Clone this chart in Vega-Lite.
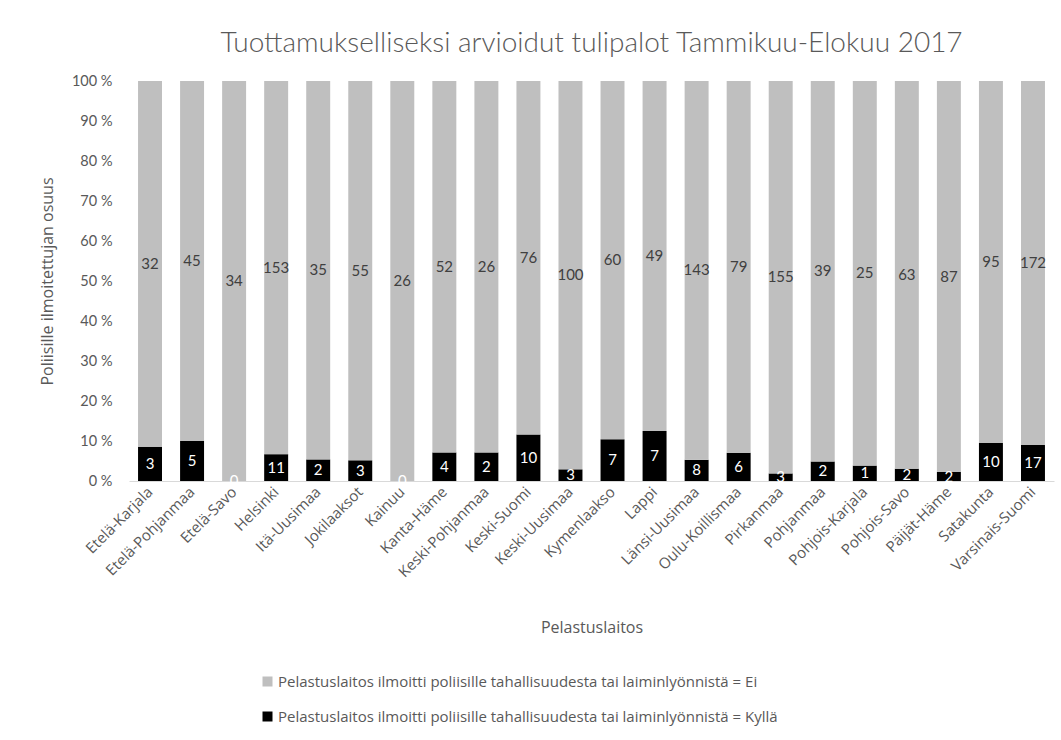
{
  "$schema": "https://vega.github.io/schema/vega-lite/v6.json",
  "width": 925,
  "height": 400,
  "autosize": {"type": "none"},
  "padding": {"left": 129, "top": 81, "right": 7, "bottom": 259},
  "background": "white",
  "config": {
    "font": "Lato",
    "view": {"stroke": null}
  },
  "title": {
    "text": "Tuottamukselliseksi arvioidut tulipalot Tammikuu-Elokuu 2017",
    "fontSize": 28,
    "fontWeight": 300,
    "color": "#595959",
    "anchor": "middle",
    "offset": 15,
    "font": "Lato"
  },
  "data": {
    "values": [
      {"alue": "Etelä-Karjala", "vastaus": "Pelastuslaitos ilmoitti poliisille tahallisuudesta tai laiminlyönnistä = Kyllä", "ord": 1, "lkm": 3},
      {"alue": "Etelä-Karjala", "vastaus": "Pelastuslaitos ilmoitti poliisille tahallisuudesta tai laiminlyönnistä = Ei", "ord": 2, "lkm": 32},
      {"alue": "Etelä-Pohjanmaa", "vastaus": "Pelastuslaitos ilmoitti poliisille tahallisuudesta tai laiminlyönnistä = Kyllä", "ord": 1, "lkm": 5},
      {"alue": "Etelä-Pohjanmaa", "vastaus": "Pelastuslaitos ilmoitti poliisille tahallisuudesta tai laiminlyönnistä = Ei", "ord": 2, "lkm": 45},
      {"alue": "Etelä-Savo", "vastaus": "Pelastuslaitos ilmoitti poliisille tahallisuudesta tai laiminlyönnistä = Kyllä", "ord": 1, "lkm": 0},
      {"alue": "Etelä-Savo", "vastaus": "Pelastuslaitos ilmoitti poliisille tahallisuudesta tai laiminlyönnistä = Ei", "ord": 2, "lkm": 34},
      {"alue": "Helsinki", "vastaus": "Pelastuslaitos ilmoitti poliisille tahallisuudesta tai laiminlyönnistä = Kyllä", "ord": 1, "lkm": 11},
      {"alue": "Helsinki", "vastaus": "Pelastuslaitos ilmoitti poliisille tahallisuudesta tai laiminlyönnistä = Ei", "ord": 2, "lkm": 153},
      {"alue": "Itä-Uusimaa", "vastaus": "Pelastuslaitos ilmoitti poliisille tahallisuudesta tai laiminlyönnistä = Kyllä", "ord": 1, "lkm": 2},
      {"alue": "Itä-Uusimaa", "vastaus": "Pelastuslaitos ilmoitti poliisille tahallisuudesta tai laiminlyönnistä = Ei", "ord": 2, "lkm": 35},
      {"alue": "Jokilaaksot", "vastaus": "Pelastuslaitos ilmoitti poliisille tahallisuudesta tai laiminlyönnistä = Kyllä", "ord": 1, "lkm": 3},
      {"alue": "Jokilaaksot", "vastaus": "Pelastuslaitos ilmoitti poliisille tahallisuudesta tai laiminlyönnistä = Ei", "ord": 2, "lkm": 55},
      {"alue": "Kainuu", "vastaus": "Pelastuslaitos ilmoitti poliisille tahallisuudesta tai laiminlyönnistä = Kyllä", "ord": 1, "lkm": 0},
      {"alue": "Kainuu", "vastaus": "Pelastuslaitos ilmoitti poliisille tahallisuudesta tai laiminlyönnistä = Ei", "ord": 2, "lkm": 26},
      {"alue": "Kanta-Häme", "vastaus": "Pelastuslaitos ilmoitti poliisille tahallisuudesta tai laiminlyönnistä = Kyllä", "ord": 1, "lkm": 4},
      {"alue": "Kanta-Häme", "vastaus": "Pelastuslaitos ilmoitti poliisille tahallisuudesta tai laiminlyönnistä = Ei", "ord": 2, "lkm": 52},
      {"alue": "Keski-Pohjanmaa", "vastaus": "Pelastuslaitos ilmoitti poliisille tahallisuudesta tai laiminlyönnistä = Kyllä", "ord": 1, "lkm": 2},
      {"alue": "Keski-Pohjanmaa", "vastaus": "Pelastuslaitos ilmoitti poliisille tahallisuudesta tai laiminlyönnistä = Ei", "ord": 2, "lkm": 26},
      {"alue": "Keski-Suomi", "vastaus": "Pelastuslaitos ilmoitti poliisille tahallisuudesta tai laiminlyönnistä = Kyllä", "ord": 1, "lkm": 10},
      {"alue": "Keski-Suomi", "vastaus": "Pelastuslaitos ilmoitti poliisille tahallisuudesta tai laiminlyönnistä = Ei", "ord": 2, "lkm": 76},
      {"alue": "Keski-Uusimaa", "vastaus": "Pelastuslaitos ilmoitti poliisille tahallisuudesta tai laiminlyönnistä = Kyllä", "ord": 1, "lkm": 3},
      {"alue": "Keski-Uusimaa", "vastaus": "Pelastuslaitos ilmoitti poliisille tahallisuudesta tai laiminlyönnistä = Ei", "ord": 2, "lkm": 100},
      {"alue": "Kymenlaakso", "vastaus": "Pelastuslaitos ilmoitti poliisille tahallisuudesta tai laiminlyönnistä = Kyllä", "ord": 1, "lkm": 7},
      {"alue": "Kymenlaakso", "vastaus": "Pelastuslaitos ilmoitti poliisille tahallisuudesta tai laiminlyönnistä = Ei", "ord": 2, "lkm": 60},
      {"alue": "Lappi", "vastaus": "Pelastuslaitos ilmoitti poliisille tahallisuudesta tai laiminlyönnistä = Kyllä", "ord": 1, "lkm": 7},
      {"alue": "Lappi", "vastaus": "Pelastuslaitos ilmoitti poliisille tahallisuudesta tai laiminlyönnistä = Ei", "ord": 2, "lkm": 49},
      {"alue": "Länsi-Uusimaa", "vastaus": "Pelastuslaitos ilmoitti poliisille tahallisuudesta tai laiminlyönnistä = Kyllä", "ord": 1, "lkm": 8},
      {"alue": "Länsi-Uusimaa", "vastaus": "Pelastuslaitos ilmoitti poliisille tahallisuudesta tai laiminlyönnistä = Ei", "ord": 2, "lkm": 143},
      {"alue": "Oulu-Koillismaa", "vastaus": "Pelastuslaitos ilmoitti poliisille tahallisuudesta tai laiminlyönnistä = Kyllä", "ord": 1, "lkm": 6},
      {"alue": "Oulu-Koillismaa", "vastaus": "Pelastuslaitos ilmoitti poliisille tahallisuudesta tai laiminlyönnistä = Ei", "ord": 2, "lkm": 79},
      {"alue": "Pirkanmaa", "vastaus": "Pelastuslaitos ilmoitti poliisille tahallisuudesta tai laiminlyönnistä = Kyllä", "ord": 1, "lkm": 3},
      {"alue": "Pirkanmaa", "vastaus": "Pelastuslaitos ilmoitti poliisille tahallisuudesta tai laiminlyönnistä = Ei", "ord": 2, "lkm": 155},
      {"alue": "Pohjanmaa", "vastaus": "Pelastuslaitos ilmoitti poliisille tahallisuudesta tai laiminlyönnistä = Kyllä", "ord": 1, "lkm": 2},
      {"alue": "Pohjanmaa", "vastaus": "Pelastuslaitos ilmoitti poliisille tahallisuudesta tai laiminlyönnistä = Ei", "ord": 2, "lkm": 39},
      {"alue": "Pohjois-Karjala", "vastaus": "Pelastuslaitos ilmoitti poliisille tahallisuudesta tai laiminlyönnistä = Kyllä", "ord": 1, "lkm": 1},
      {"alue": "Pohjois-Karjala", "vastaus": "Pelastuslaitos ilmoitti poliisille tahallisuudesta tai laiminlyönnistä = Ei", "ord": 2, "lkm": 25},
      {"alue": "Pohjois-Savo", "vastaus": "Pelastuslaitos ilmoitti poliisille tahallisuudesta tai laiminlyönnistä = Kyllä", "ord": 1, "lkm": 2},
      {"alue": "Pohjois-Savo", "vastaus": "Pelastuslaitos ilmoitti poliisille tahallisuudesta tai laiminlyönnistä = Ei", "ord": 2, "lkm": 63},
      {"alue": "Päijät-Häme", "vastaus": "Pelastuslaitos ilmoitti poliisille tahallisuudesta tai laiminlyönnistä = Kyllä", "ord": 1, "lkm": 2},
      {"alue": "Päijät-Häme", "vastaus": "Pelastuslaitos ilmoitti poliisille tahallisuudesta tai laiminlyönnistä = Ei", "ord": 2, "lkm": 87},
      {"alue": "Satakunta", "vastaus": "Pelastuslaitos ilmoitti poliisille tahallisuudesta tai laiminlyönnistä = Kyllä", "ord": 1, "lkm": 10},
      {"alue": "Satakunta", "vastaus": "Pelastuslaitos ilmoitti poliisille tahallisuudesta tai laiminlyönnistä = Ei", "ord": 2, "lkm": 95},
      {"alue": "Varsinais-Suomi", "vastaus": "Pelastuslaitos ilmoitti poliisille tahallisuudesta tai laiminlyönnistä = Kyllä", "ord": 1, "lkm": 17},
      {"alue": "Varsinais-Suomi", "vastaus": "Pelastuslaitos ilmoitti poliisille tahallisuudesta tai laiminlyönnistä = Ei", "ord": 2, "lkm": 172}
    ]
  },
  "encoding": {
    "x": {
      "field": "alue",
      "type": "nominal",
      "sort": null,
      "scale": {"paddingInner": 0.43, "paddingOuter": 0.215},
      "axis": {
        "title": "Pelastuslaitos",
        "titleFont": "Open Sans",
        "titleFontSize": 16,
        "titleFontWeight": "normal",
        "titleColor": "#595959",
        "titlePadding": 40,
        "labelAngle": -45,
        "labelAlign": "right",
        "labelBaseline": "middle",
        "labelFont": "Open Sans",
        "labelFontSize": 15,
        "labelColor": "#595959",
        "labelPadding": 8,
        "ticks": false,
        "domainColor": "#d9d9d9",
        "domainWidth": 1
      }
    }
  },
  "layer": [
    {
      "mark": {"type": "bar"},
      "encoding": {
        "y": {
          "field": "lkm",
          "type": "quantitative",
          "stack": "normalize",
          "scale": {"domain": [0, 1]},
          "axis": {
            "title": "Poliisille ilmoitettujan osuus",
            "titleFont": "Open Sans",
            "titleFontSize": 16,
            "titleFontWeight": "normal",
            "titleColor": "#595959",
            "titlePadding": 16,
            "values": [0, 0.1, 0.2, 0.3, 0.4, 0.5, 0.6, 0.7, 0.8, 0.9, 1],
            "labelExpr": "round(datum.value * 100) + ' %'",
            "labelFont": "Lato",
            "labelFontSize": 14.5,
            "labelColor": "#595959",
            "labelPadding": 17,
            "labelOverlap": false,
            "domain": false,
            "ticks": false,
            "grid": false
          }
        },
        "order": {"field": "ord", "type": "quantitative", "sort": "ascending"},
        "color": {
          "field": "vastaus",
          "type": "nominal",
          "scale": {
            "domain": [
              "Pelastuslaitos ilmoitti poliisille tahallisuudesta tai laiminlyönnistä = Ei",
              "Pelastuslaitos ilmoitti poliisille tahallisuudesta tai laiminlyönnistä = Kyllä"
            ],
            "range": ["#bfbfbf", "#000000"]
          },
          "legend": {
            "title": null,
            "orient": "none",
            "legendX": 131,
            "legendY": 593,
            "direction": "vertical",
            "symbolType": "square",
            "symbolSize": 100,
            "symbolStrokeWidth": 0,
            "rowPadding": 19,
            "labelFont": "Open Sans",
            "labelFontSize": 15,
            "labelColor": "#595959",
            "labelOffset": 3,
            "labelLimit": 800
          }
        }
      }
    },
    {
      "transform": [
        {"stack": "lkm", "groupby": ["alue"], "sort": [{"field": "ord", "order": "ascending"}], "offset": "normalize", "as": ["y0", "y1"]},
        {"calculate": "(datum.y0 + datum.y1) / 2", "as": "ymid"}
      ],
      "mark": {"type": "text", "baseline": "middle", "align": "center", "fontSize": 15, "font": "Lato"},
      "encoding": {
        "y": {
          "field": "ymid",
          "type": "quantitative",
          "axis": {
            "title": "Poliisille ilmoitettujan osuus",
            "titleFont": "Open Sans",
            "titleFontSize": 16,
            "titleFontWeight": "normal",
            "titleColor": "#595959",
            "titlePadding": 16,
            "values": [0, 0.1, 0.2, 0.3, 0.4, 0.5, 0.6, 0.7, 0.8, 0.9, 1],
            "labelExpr": "round(datum.value * 100) + ' %'",
            "labelFont": "Lato",
            "labelFontSize": 14.5,
            "labelColor": "#595959",
            "labelPadding": 17,
            "labelOverlap": false,
            "domain": false,
            "ticks": false,
            "grid": false
          }
        },
        "text": {"field": "lkm", "type": "quantitative"},
        "color": {
          "condition": {"test": "datum.ord == 1", "value": "#ffffff"},
          "value": "#404040"
        }
      }
    }
  ]
}
